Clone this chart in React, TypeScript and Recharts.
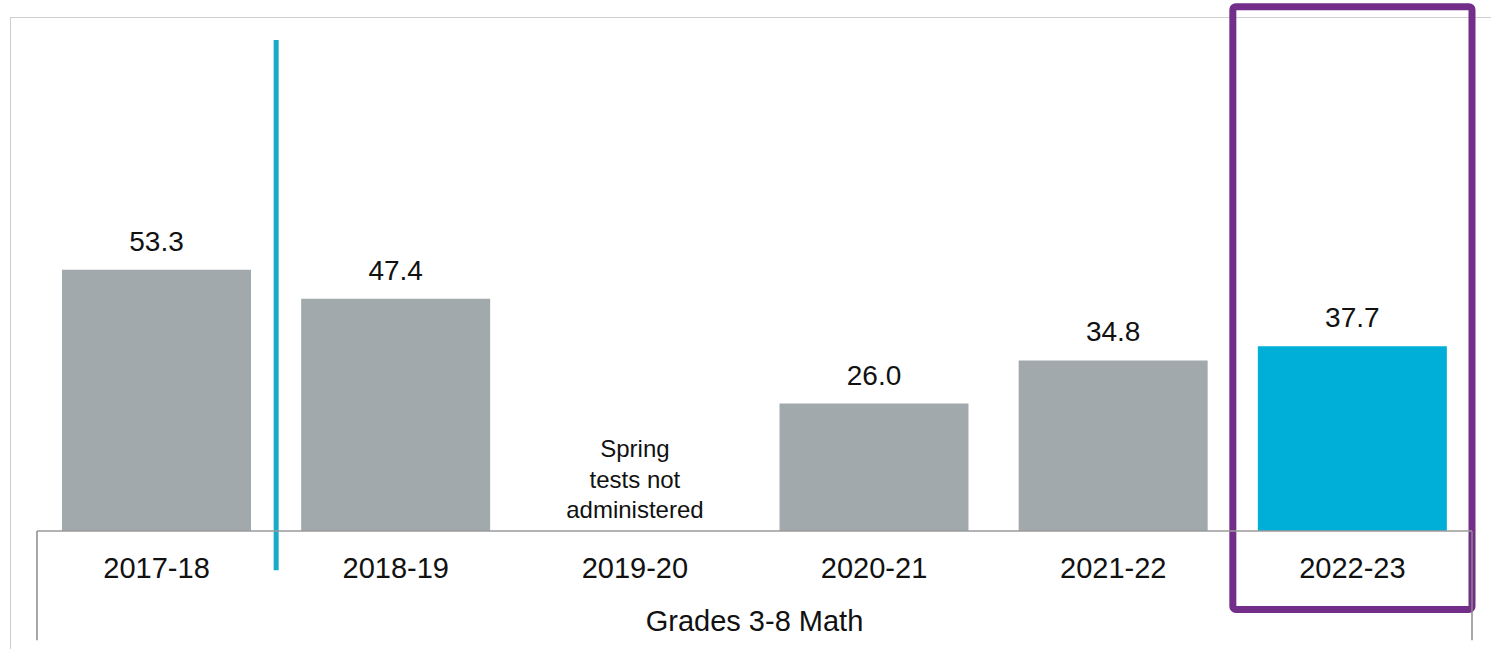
import {
  BarChart,
  Bar,
  Cell,
  XAxis,
  YAxis,
  LabelList,
  ReferenceLine,
  ReferenceArea,
  Label,
} from 'recharts'

const years = ['2017-18', '2018-19', '2019-20', '2020-21', '2021-22', '2022-23']
const values: (number | null)[] = [53.3, 47.4, null, 26.0, 34.8, 37.7]
const notes = ['', '', 'Spring\ntests not\nadministered', '', '', '']
const highlight = '2022-23'
const dividerBefore = '2018-19'
const axisTitle = 'Grades 3-8 Math'

const GRAY = '#a2a9ac'
const CYAN = '#00afd7'
const TEAL = '#19a9c9'
const PURPLE = '#722e89'
const FONT = '"Liberation Sans", Arial, sans-serif'

const data = years.map((year, i) => ({ year, value: values[i], note: notes[i] }))

// eslint-disable-next-line @typescript-eslint/no-explicit-any
function YearTick({ x, y, payload, index }: any) {
  const note = notes[index] || ''
  const lines = note ? note.split('\n') : []
  return (
    <g>
      <text x={x} y={y + 47} textAnchor="middle" fontSize={29} fontFamily={FONT} fill="#111">
        {payload.value}
      </text>
      {lines.map((l: string, i: number) => (
        <text
          key={i}
          x={x}
          y={y - 74 + i * 30.5}
          textAnchor="middle"
          fontSize={24}
          fontFamily={FONT}
          fill="#111"
        >
          {l}
        </text>
      ))}
    </g>
  )
}

// eslint-disable-next-line @typescript-eslint/no-explicit-any
function ValueLabel({ x, y, width, value }: any) {
  if (value == null) return null
  return (
    <text x={x + width / 2} y={y - 19} textAnchor="middle" fontSize={28} fontFamily={FONT} fill="#111">
      {Number(value).toFixed(1)}
    </text>
  )
}

export default function App() {
  const first = years[0]
  const last = years[years.length - 1]
  return (
    <div style={{ position: 'absolute', left: 0, top: 0, width: 1491, height: 649, overflow: 'hidden', background: '#fff' }}>
      <div
        style={{
          position: 'absolute',
          left: 10,
          top: 17,
          width: 1600,
          height: 800,
          border: '1px solid #cfcfcf',
        }}
      />
      <div style={{ position: 'absolute', left: 0, top: 0 }}>
        <BarChart width={1491} height={649} data={data} margin={{ top: 41, right: 19, bottom: 0, left: 37 }}>
          <XAxis
            dataKey="year"
            height={118}
            axisLine={{ stroke: '#9a9a9a', strokeWidth: 1.5 }}
            tickLine={false}
            tickSize={0}
            tickMargin={0}
            interval={0}
            tick={<YearTick />}
          >
            <Label
              value={axisTitle}
              position="insideBottom"
              offset={18}
              fontSize={29}
              fontFamily={FONT}
              fill="#111"
            />
          </XAxis>
          <YAxis hide domain={[0, 100]} allowDataOverflow />
          <Bar dataKey="value" barSize={189} isAnimationActive={false}>
            {data.map((d, i) => (
              <Cell key={i} fill={d.year === highlight ? CYAN : GRAY} />
            ))}
            <LabelList dataKey="value" content={<ValueLabel />} />
          </Bar>
          <ReferenceLine
            segment={[
              { x: dividerBefore, y: 100.2 },
              { x: dividerBefore, y: -8 },
            ]}
            position="start"
            stroke={TEAL}
            strokeWidth={5}
            ifOverflow="visible"
          />
          <ReferenceLine
            segment={[
              { x: first, y: 0 },
              { x: first, y: -22.3 },
            ]}
            position="start"
            stroke="#8a8a8a"
            strokeWidth={1.5}
            ifOverflow="visible"
          />
          <ReferenceLine
            segment={[
              { x: last, y: 0 },
              { x: last, y: -22.3 },
            ]}
            position="end"
            stroke="#8a8a8a"
            strokeWidth={1.5}
            ifOverflow="visible"
          />
          <ReferenceArea
            x1={highlight}
            x2={highlight}
            y1={-16}
            y2={107}
            fill="none"
            stroke={PURPLE}
            strokeWidth={7}
            radius={3}
            ifOverflow="visible"
          />
        </BarChart>
      </div>
    </div>
  )
}
